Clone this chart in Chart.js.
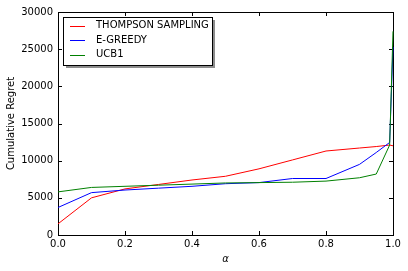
<!DOCTYPE html>
<html><head><meta charset="utf-8">
<script src="https://cdn.jsdelivr.net/npm/chart.js@4/dist/chart.umd.min.js"></script>
<style>html,body{margin:0;padding:0;background:#fff}#wrap{width:408px;height:271px}</style>
</head><body><div id="wrap"><canvas id="c" width="408" height="271"></canvas></div>
<script>
const alpha = [0, 0.1, 0.2, 0.3, 0.4, 0.5, 0.6, 0.7, 0.8, 0.9, 0.95, 0.99, 1.0];
const thompson = [1500, 5000, 6200, 6800, 7400, 7900, 8900, 10100, 11300, 11700, 11900, 12100, 12000];
const egreedy = [3700, 5700, 6050, 6300, 6550, 6900, 7050, 7600, 7600, 9500, 11100, 12450, 25300];
const ucb1 = [5800, 6400, 6550, 6700, 6850, 7000, 7050, 7100, 7250, 7700, 8200, 12100, 27400];
const seriesNames = ['THOMPSON SAMPLING', 'E-GREEDY', 'UCB1'];
const xTicks = [0, 0.2, 0.4, 0.6, 0.8, 1.0];
const yTicks = [0, 5000, 10000, 15000, 20000, 25000, 30000];

const FONT = 'DejaVu Sans';
const pts = arr => alpha.map((a, i) => ({x: a, y: arr[i]}));
const colors = ['#ff0000', '#0000ff', '#008000'];

const framePlugin = {
  id: 'frame',
  beforeDatasetsDraw(chart) {
    const {ctx, chartArea: a, scales: {x, y}} = chart;
    ctx.save();
    ctx.strokeStyle = '#000';
    ctx.lineWidth = 1;
    const L = 4;
    ctx.beginPath();
    xTicks.forEach(v => {
      const px = Math.round(x.getPixelForValue(v)) + 0.5;
      ctx.moveTo(px, a.bottom); ctx.lineTo(px, a.bottom - L);
      ctx.moveTo(px, a.top); ctx.lineTo(px, a.top + L);
    });
    yTicks.forEach(v => {
      const py = Math.round(y.getPixelForValue(v)) + 0.5;
      ctx.moveTo(a.left, py); ctx.lineTo(a.left + L, py);
      ctx.moveTo(a.right, py); ctx.lineTo(a.right - L, py);
    });
    ctx.stroke();
    ctx.strokeRect(Math.round(a.left) + 0.5, Math.round(a.top) + 0.5, Math.round(a.right - a.left), Math.round(a.bottom - a.top));
    ctx.restore();
  },
  afterDraw(chart) {
    const {ctx} = chart;
    ctx.save();
    ctx.lineWidth = 1;
    const bx = 63, by = 17, bw = 149, bh = 48;
    ctx.fillStyle = 'rgba(128,128,128,0.9)';
    ctx.fillRect(bx + 3, by + 3, bw, bh);
    ctx.fillStyle = '#fff';
    ctx.fillRect(bx, by, bw, bh);
    ctx.strokeStyle = '#000';
    ctx.strokeRect(bx + 0.5, by + 0.5, bw, bh);
    ctx.font = '10px "' + FONT + '"';
    ctx.textBaseline = 'middle';
    ctx.textAlign = 'left';
    chart.data.datasets.forEach((ds, i) => {
      const ry = 25.5 + i * 14.7;
      ctx.strokeStyle = ds.borderColor;
      ctx.beginPath(); ctx.moveTo(70, Math.round(ry) + 0.5); ctx.lineTo(85, Math.round(ry) + 0.5); ctx.stroke();
      ctx.fillStyle = '#000';
      ctx.fillText(ds.label, 96, ry);
    });
    ctx.restore();
  }
};

new Chart(document.getElementById('c'), {
  type: 'scatter',
  data: {
    datasets: [
      {label: seriesNames[0], data: pts(thompson), borderColor: colors[0], order: 3},
      {label: seriesNames[1], data: pts(egreedy), borderColor: colors[1], order: 2},
      {label: seriesNames[2], data: pts(ucb1), borderColor: colors[2], order: 1}
    ].map(d => Object.assign(d, {showLine: true, borderWidth: 1, pointRadius: 0, fill: false, tension: 0, clip: 2}))
  },
  options: {
    responsive: false, animation: false, devicePixelRatio: 1,
    layout: {padding: {left: 0, right: 15, top: 12, bottom: 0}},
    plugins: {legend: {display: false}, tooltip: {enabled: false}},
    scales: {
      x: {
        type: 'linear', min: 0, max: 1,
        afterFit: s => { s.height = 36; },
        afterBuildTicks: s => { s.ticks = xTicks.map(v => ({value: v})); },
        grid: {display: false, drawTicks: false},
        border: {display: false},
        ticks: {padding: 3, color: '#000', font: {family: FONT, size: 10}, callback: v => v.toFixed(1), maxRotation: 0, autoSkip: false},
        title: {display: true, text: 'α', color: '#000', font: {family: FONT, size: 10, style: 'italic'}, padding: 6}
      },
      y: {
        min: 0, max: 30000,
        afterFit: s => { s.width = 58; },
        afterBuildTicks: s => { s.ticks = yTicks.map(v => ({value: v})); },
        grid: {display: false, drawTicks: false},
        border: {display: false},
        ticks: {padding: 5, color: '#000', font: {family: FONT, size: 10}, callback: v => String(v), autoSkip: false},
        title: {display: true, text: 'Cumulative Regret', color: '#000', font: {family: FONT, size: 10}, padding: 5}
      }
    }
  },
  plugins: [framePlugin]
});
</script></body></html>
